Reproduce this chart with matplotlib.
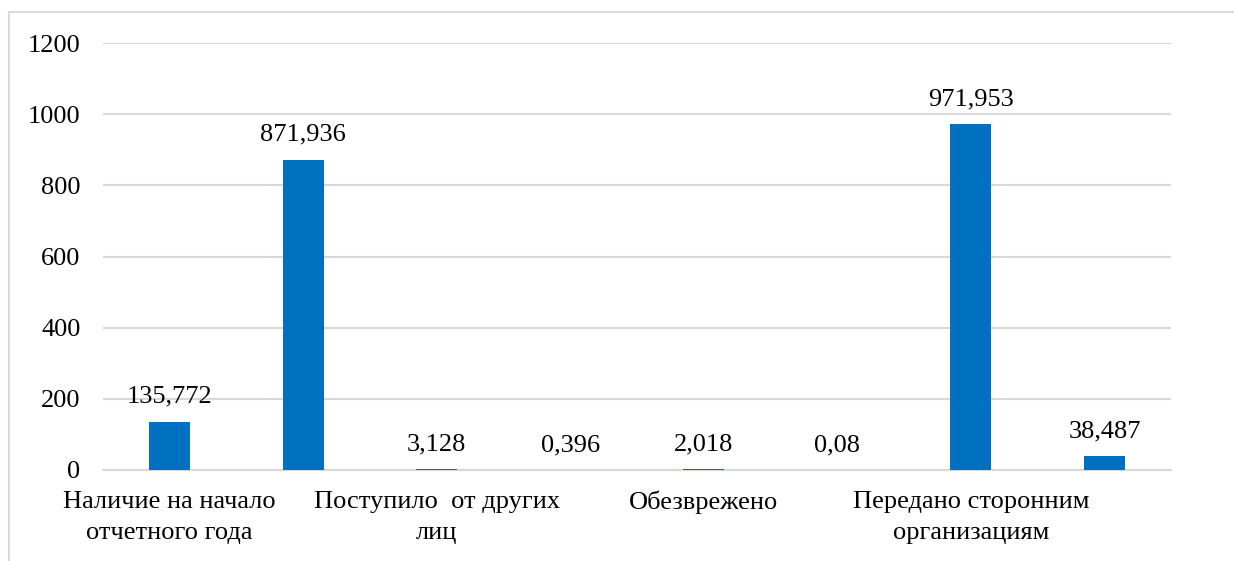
import numpy as np
from matplotlib import pyplot as plt
from matplotlib.lines import Line2D

values = [135.772, 871.936, 3.128, 0.396, 2.018, 0.08, 971.953, 38.487]
value_labels = ['135,772', '871,936', '3,128', '0,396', '2,018', '0,08', '971,953', '38,487']
categories = ['Наличие на начало\nотчетного года', '',
              'Поступило  от других\nлиц', '',
              'Обезврежено', '',
              'Передано сторонним\nорганизациям', '']
yticks = [0, 200, 400, 600, 800, 1000, 1200]

plt.rcParams['font.family'] = ['Liberation Serif', 'DejaVu Serif']

W, H = 1234, 561
fig = plt.figure(figsize=(W / 100, H / 100), dpi=100)
ax = fig.add_axes([102.7 / W, 91 / H, (1171.3 - 102.7) / W, (470 - 43) / H])

x = np.arange(len(values))
ax.bar(x, values, width=0.307, color='#0070C0', zorder=3)
for xi, v, lab in zip(x, values, value_labels):
    ax.annotate(lab, (xi, v), xytext=(0, 10), textcoords='offset points',
                ha='center', va='bottom', fontsize=19, color='#000000')

ax.set_xlim(-0.5, len(values) - 0.5)
ax.set_ylim(0, 1200)
ax.set_yticks(yticks)
ax.set_yticklabels([str(t) for t in yticks], fontsize=19)
ax.set_xticks(x)
ax.set_xticklabels(categories, fontsize=19, linespacing=1.55)
ax.tick_params(axis='both', length=0)
ax.tick_params(axis='y', pad=16)
ax.tick_params(axis='x', pad=15)
ax.grid(axis='y', color='#d9d9d9', linewidth=1.5, zorder=0)
for s in ['top', 'right', 'left']:
    ax.spines[s].set_visible(False)
ax.spines['bottom'].set_color('#d9d9d9')
ax.spines['bottom'].set_linewidth(1.5)

# outer chart border: only top and left edges are inside the crop
bx, by = 9 / W, 1 - 12 / H
fig.add_artist(Line2D([bx, 1.0], [by, by], transform=fig.transFigure,
                      color='#d9d9d9', linewidth=1.5))
fig.add_artist(Line2D([bx, bx], [0.0, by], transform=fig.transFigure,
                      color='#d9d9d9', linewidth=1.5))

fig.savefig('out.png', dpi=100)
plt.close()
